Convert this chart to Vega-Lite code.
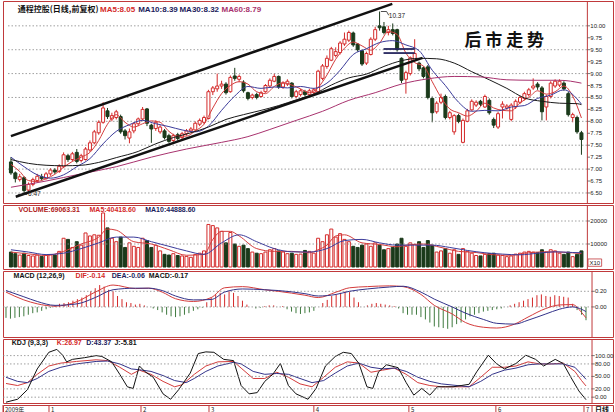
{
"$schema": "https://vega.github.io/schema/vega-lite/v6.json",
"padding": {"left": 2, "top": 0, "right": 0, "bottom": 0},
"background": "white",
"spacing": 0,
"config": {"view": {"stroke": "#c0393b", "strokeWidth": 1}},
"resolve": {"scale": {"y": "independent", "color": "independent"}},
"datasets": {
"k": [
{"i":0,"o":7.15,"h":7.25,"l":6.88,"c":6.92,"v":6500,"m":-0.14},
{"i":1,"o":6.92,"h":6.95,"l":6.72,"c":6.80,"v":5800,"m":-0.15},
{"i":2,"o":6.78,"h":6.90,"l":6.74,"c":6.84,"v":5200,"m":-0.14},
{"i":3,"o":6.82,"h":6.85,"l":6.47,"c":6.55,"v":6000,"m":-0.13},
{"i":4,"o":6.56,"h":6.72,"l":6.52,"c":6.68,"v":5000,"m":-0.12},
{"i":5,"o":6.68,"h":6.82,"l":6.64,"c":6.78,"v":4800,"m":-0.10},
{"i":6,"o":6.76,"h":6.90,"l":6.72,"c":6.85,"v":5200,"m":-0.08},
{"i":7,"o":6.84,"h":6.90,"l":6.76,"c":6.80,"v":4600,"m":-0.07},
{"i":8,"o":6.80,"h":6.94,"l":6.78,"c":6.90,"v":5000,"m":-0.05},
{"i":9,"o":6.90,"h":7.02,"l":6.86,"c":6.98,"v":5400,"m":-0.03},
{"i":10,"o":6.98,"h":7.02,"l":6.90,"c":6.94,"v":5200,"m":-0.01},
{"i":11,"o":6.95,"h":7.10,"l":6.92,"c":7.06,"v":6800,"m":0.02},
{"i":12,"o":7.05,"h":7.35,"l":7.02,"c":7.30,"v":12500,"m":0.04},
{"i":13,"o":7.28,"h":7.32,"l":7.15,"c":7.20,"v":12000,"m":0.05},
{"i":14,"o":7.20,"h":7.36,"l":7.16,"c":7.32,"v":8500,"m":0.06},
{"i":15,"o":7.35,"h":7.42,"l":7.12,"c":7.16,"v":11000,"m":0.08},
{"i":16,"o":7.18,"h":7.32,"l":7.14,"c":7.28,"v":9500,"m":0.10},
{"i":17,"o":7.20,"h":7.46,"l":7.18,"c":7.42,"v":14800,"m":0.12},
{"i":18,"o":7.40,"h":7.60,"l":7.36,"c":7.55,"v":13500,"m":0.15},
{"i":19,"o":7.55,"h":7.82,"l":7.52,"c":7.78,"v":14000,"m":0.20},
{"i":20,"o":7.76,"h":8.02,"l":7.72,"c":7.98,"v":13800,"m":0.24},
{"i":21,"o":7.98,"h":8.40,"l":7.95,"c":8.28,"v":23500,"m":0.28},
{"i":22,"o":8.22,"h":8.28,"l":8.05,"c":8.10,"v":17000,"m":0.26},
{"i":23,"o":8.05,"h":8.18,"l":8.00,"c":8.12,"v":12500,"m":0.22},
{"i":24,"o":8.08,"h":8.24,"l":8.04,"c":8.20,"v":11000,"m":0.20},
{"i":25,"o":8.10,"h":8.14,"l":7.74,"c":7.78,"v":13000,"m":0.14},
{"i":26,"o":7.80,"h":7.84,"l":7.62,"c":7.70,"v":8500,"m":0.10},
{"i":27,"o":7.65,"h":7.85,"l":7.54,"c":7.78,"v":10500,"m":0.06},
{"i":28,"o":7.80,"h":7.98,"l":7.75,"c":7.95,"v":9000,"m":0.05},
{"i":29,"o":7.95,"h":8.08,"l":7.90,"c":8.05,"v":8500,"m":0.03},
{"i":30,"o":8.05,"h":8.30,"l":8.02,"c":8.25,"v":12500,"m":0.04},
{"i":31,"o":8.26,"h":8.28,"l":7.90,"c":7.96,"v":11500,"m":0.02},
{"i":32,"o":7.92,"h":7.95,"l":7.55,"c":7.84,"v":8500,"m":0.00},
{"i":33,"o":7.85,"h":8.02,"l":7.80,"c":7.98,"v":9500,"m":-0.02},
{"i":34,"o":7.78,"h":7.92,"l":7.74,"c":7.88,"v":7000,"m":-0.04},
{"i":35,"o":7.80,"h":7.84,"l":7.62,"c":7.66,"v":5500,"m":-0.07},
{"i":36,"o":7.70,"h":7.74,"l":7.55,"c":7.58,"v":5200,"m":-0.10},
{"i":37,"o":7.60,"h":7.74,"l":7.56,"c":7.70,"v":5800,"m":-0.12},
{"i":38,"o":7.72,"h":7.76,"l":7.60,"c":7.64,"v":5000,"m":-0.13},
{"i":39,"o":7.66,"h":7.78,"l":7.62,"c":7.74,"v":4800,"m":-0.12},
{"i":40,"o":7.74,"h":7.84,"l":7.70,"c":7.80,"v":4600,"m":-0.10},
{"i":41,"o":7.80,"h":7.88,"l":7.76,"c":7.84,"v":4200,"m":-0.08},
{"i":42,"o":7.82,"h":8.00,"l":7.80,"c":7.96,"v":5400,"m":-0.05},
{"i":43,"o":7.94,"h":8.06,"l":7.90,"c":8.02,"v":6000,"m":-0.03},
{"i":44,"o":7.98,"h":8.12,"l":7.94,"c":8.08,"v":7000,"m":-0.01},
{"i":45,"o":8.06,"h":8.66,"l":8.04,"c":8.62,"v":18500,"m":0.06},
{"i":46,"o":8.62,"h":8.74,"l":8.55,"c":8.70,"v":18000,"m":0.12},
{"i":47,"o":8.68,"h":9.00,"l":8.62,"c":8.74,"v":17000,"m":0.16},
{"i":48,"o":8.74,"h":8.85,"l":8.68,"c":8.78,"v":15500,"m":0.18},
{"i":49,"o":8.78,"h":8.82,"l":8.56,"c":8.60,"v":10500,"m":0.16},
{"i":50,"o":8.62,"h":8.96,"l":8.60,"c":8.92,"v":15000,"m":0.20},
{"i":51,"o":8.95,"h":9.12,"l":8.85,"c":8.90,"v":10000,"m":0.18},
{"i":52,"o":8.88,"h":8.98,"l":8.82,"c":8.94,"v":9000,"m":0.14},
{"i":53,"o":8.82,"h":8.86,"l":8.60,"c":8.64,"v":9500,"m":0.08},
{"i":54,"o":8.60,"h":8.62,"l":8.44,"c":8.48,"v":8000,"m":0.03},
{"i":55,"o":8.50,"h":8.58,"l":8.46,"c":8.55,"v":6500,"m":0.00},
{"i":56,"o":8.56,"h":8.60,"l":8.46,"c":8.50,"v":6000,"m":-0.02},
{"i":57,"o":8.52,"h":8.64,"l":8.50,"c":8.60,"v":5800,"m":-0.01},
{"i":58,"o":8.62,"h":8.78,"l":8.60,"c":8.75,"v":6500,"m":0.01},
{"i":59,"o":8.74,"h":8.90,"l":8.70,"c":8.86,"v":7500,"m":0.02},
{"i":60,"o":8.84,"h":9.00,"l":8.82,"c":8.94,"v":8000,"m":0.02},
{"i":61,"o":8.94,"h":8.96,"l":8.68,"c":8.72,"v":7000,"m":0.00},
{"i":62,"o":8.72,"h":8.84,"l":8.68,"c":8.80,"v":6500,"m":0.01},
{"i":63,"o":8.78,"h":8.88,"l":8.74,"c":8.84,"v":5800,"m":-0.03},
{"i":64,"o":8.80,"h":8.82,"l":8.48,"c":8.52,"v":6000,"m":-0.06},
{"i":65,"o":8.52,"h":8.66,"l":8.48,"c":8.62,"v":5500,"m":-0.08},
{"i":66,"o":8.56,"h":8.68,"l":8.52,"c":8.64,"v":5600,"m":-0.09},
{"i":67,"o":8.62,"h":8.66,"l":8.52,"c":8.56,"v":7200,"m":-0.08},
{"i":68,"o":8.56,"h":8.68,"l":8.52,"c":8.64,"v":6800,"m":-0.07},
{"i":69,"o":8.60,"h":8.70,"l":8.56,"c":8.66,"v":6000,"m":-0.05},
{"i":70,"o":8.62,"h":9.08,"l":8.60,"c":9.05,"v":12500,"m":0.00},
{"i":71,"o":8.90,"h":9.20,"l":8.86,"c":9.16,"v":11000,"m":0.05},
{"i":72,"o":9.15,"h":9.38,"l":9.10,"c":9.32,"v":14000,"m":0.09},
{"i":73,"o":9.28,"h":9.56,"l":9.26,"c":9.52,"v":16500,"m":0.14},
{"i":74,"o":9.38,"h":9.55,"l":9.34,"c":9.46,"v":13000,"m":0.16},
{"i":75,"o":9.44,"h":9.68,"l":9.40,"c":9.64,"v":14500,"m":0.18},
{"i":76,"o":9.62,"h":9.86,"l":9.58,"c":9.72,"v":12000,"m":0.20},
{"i":77,"o":9.70,"h":9.90,"l":9.66,"c":9.86,"v":11000,"m":0.19},
{"i":78,"o":9.85,"h":9.88,"l":9.56,"c":9.60,"v":9000,"m":0.12},
{"i":79,"o":9.62,"h":9.64,"l":9.46,"c":9.50,"v":8500,"m":0.06},
{"i":80,"o":9.48,"h":9.50,"l":9.16,"c":9.20,"v":9500,"m":0.00},
{"i":81,"o":9.22,"h":9.46,"l":9.18,"c":9.42,"v":10000,"m":0.02},
{"i":82,"o":9.40,"h":9.76,"l":9.38,"c":9.72,"v":9000,"m":0.04},
{"i":83,"o":9.72,"h":9.98,"l":9.68,"c":9.92,"v":10500,"m":0.05},
{"i":84,"o":10.00,"h":10.30,"l":9.90,"c":9.96,"v":9500,"m":0.04},
{"i":85,"o":9.98,"h":10.08,"l":9.82,"c":9.86,"v":7500,"m":0.03},
{"i":86,"o":9.86,"h":10.00,"l":9.80,"c":9.92,"v":8000,"m":0.02},
{"i":87,"o":9.92,"h":10.05,"l":9.80,"c":9.84,"v":8500,"m":0.01},
{"i":88,"o":9.92,"h":9.94,"l":9.46,"c":9.50,"v":10000,"m":-0.02},
{"i":89,"o":9.32,"h":9.34,"l":8.80,"c":8.86,"v":12500,"m":-0.08},
{"i":90,"o":8.88,"h":9.06,"l":8.58,"c":9.02,"v":9000,"m":-0.10},
{"i":91,"o":9.00,"h":9.36,"l":8.96,"c":9.33,"v":10500,"m":-0.10},
{"i":92,"o":9.28,"h":9.72,"l":9.25,"c":9.42,"v":9800,"m":-0.10},
{"i":93,"o":9.22,"h":9.25,"l":9.05,"c":9.10,"v":11000,"m":-0.13},
{"i":94,"o":9.12,"h":9.15,"l":8.90,"c":8.94,"v":8500,"m":-0.16},
{"i":95,"o":9.14,"h":9.18,"l":8.46,"c":8.50,"v":11500,"m":-0.20},
{"i":96,"o":8.48,"h":8.52,"l":7.98,"c":8.18,"v":9500,"m":-0.25},
{"i":97,"o":8.20,"h":8.42,"l":8.16,"c":8.38,"v":6500,"m":-0.26},
{"i":98,"o":8.40,"h":8.58,"l":8.36,"c":8.50,"v":7000,"m":-0.27},
{"i":99,"o":8.52,"h":8.56,"l":8.04,"c":8.08,"v":8000,"m":-0.28},
{"i":100,"o":8.08,"h":8.22,"l":8.04,"c":8.18,"v":6000,"m":-0.26},
{"i":101,"o":7.78,"h":8.15,"l":7.72,"c":8.12,"v":7500,"m":-0.22},
{"i":102,"o":8.12,"h":8.16,"l":7.96,"c":8.00,"v":5500,"m":-0.20},
{"i":103,"o":7.56,"h":8.06,"l":7.54,"c":8.02,"v":8000,"m":-0.16},
{"i":104,"o":8.00,"h":8.26,"l":7.98,"c":8.22,"v":6800,"m":-0.12},
{"i":105,"o":8.24,"h":8.46,"l":8.22,"c":8.42,"v":6000,"m":-0.10},
{"i":106,"o":8.34,"h":8.44,"l":8.30,"c":8.40,"v":5000,"m":-0.08},
{"i":107,"o":8.42,"h":8.45,"l":8.32,"c":8.36,"v":4800,"m":-0.06},
{"i":108,"o":8.30,"h":8.56,"l":8.28,"c":8.52,"v":5500,"m":-0.05},
{"i":109,"o":8.44,"h":8.48,"l":8.14,"c":8.18,"v":5800,"m":-0.04},
{"i":110,"o":8.04,"h":8.08,"l":7.86,"c":7.92,"v":6000,"m":-0.03},
{"i":111,"o":7.88,"h":8.20,"l":7.84,"c":8.16,"v":5200,"m":-0.02},
{"i":112,"o":8.30,"h":8.42,"l":8.06,"c":8.36,"v":5000,"m":0.00},
{"i":113,"o":8.28,"h":8.36,"l":8.24,"c":8.32,"v":4500,"m":0.02},
{"i":114,"o":8.04,"h":8.38,"l":8.00,"c":8.34,"v":4800,"m":0.04},
{"i":115,"o":8.30,"h":8.46,"l":8.26,"c":8.42,"v":5600,"m":0.06},
{"i":116,"o":8.40,"h":8.54,"l":8.36,"c":8.50,"v":6000,"m":0.08},
{"i":117,"o":8.48,"h":8.62,"l":8.44,"c":8.58,"v":6500,"m":0.10},
{"i":118,"o":8.56,"h":8.70,"l":8.52,"c":8.66,"v":6800,"m":0.12},
{"i":119,"o":8.70,"h":8.90,"l":8.66,"c":8.74,"v":6500,"m":0.15},
{"i":120,"o":8.78,"h":8.82,"l":8.66,"c":8.72,"v":6200,"m":0.16},
{"i":121,"o":8.70,"h":8.74,"l":8.02,"c":8.20,"v":7500,"m":0.14},
{"i":122,"o":8.30,"h":8.56,"l":8.02,"c":8.52,"v":6500,"m":0.13},
{"i":123,"o":8.52,"h":8.84,"l":8.48,"c":8.80,"v":7500,"m":0.15},
{"i":124,"o":8.74,"h":8.88,"l":8.70,"c":8.84,"v":7000,"m":0.14},
{"i":125,"o":8.76,"h":8.88,"l":8.72,"c":8.84,"v":6000,"m":0.13},
{"i":126,"o":8.80,"h":8.84,"l":8.64,"c":8.68,"v":5500,"m":0.12},
{"i":127,"o":8.58,"h":8.62,"l":8.10,"c":8.14,"v":6500,"m":0.04},
{"i":128,"o":8.08,"h":8.18,"l":7.98,"c":8.14,"v":4500,"m":-0.04},
{"i":129,"o":8.08,"h":8.12,"l":7.74,"c":7.78,"v":5500,"m":-0.10},
{"i":130,"o":7.76,"h":7.80,"l":7.30,"c":7.62,"v":7000,"m":-0.17}
],
"ma": [
{"i":0,"s":"MA5","p":7.10},{"i":2,"s":"MA5","p":6.95},{"i":4,"s":"MA5","p":6.76},{"i":6,"s":"MA5","p":6.74},{"i":8,"s":"MA5","p":6.80},{"i":10,"s":"MA5","p":6.89},{"i":12,"s":"MA5","p":7.04},{"i":14,"s":"MA5","p":7.16},{"i":16,"s":"MA5","p":7.25},{"i":18,"s":"MA5","p":7.35},{"i":20,"s":"MA5","p":7.60},{"i":22,"s":"MA5","p":7.94},{"i":24,"s":"MA5","p":8.14},{"i":26,"s":"MA5","p":7.98},{"i":28,"s":"MA5","p":7.88},{"i":30,"s":"MA5","p":7.95},{"i":32,"s":"MA5","p":8.01},{"i":34,"s":"MA5","p":7.98},{"i":36,"s":"MA5","p":7.79},{"i":38,"s":"MA5","p":7.69},{"i":40,"s":"MA5","p":7.69},{"i":42,"s":"MA5","p":7.80},{"i":44,"s":"MA5","p":7.94},{"i":46,"s":"MA5","p":8.28},{"i":48,"s":"MA5","p":8.58},{"i":50,"s":"MA5","p":8.75},{"i":52,"s":"MA5","p":8.83},{"i":54,"s":"MA5","p":8.78},{"i":56,"s":"MA5","p":8.62},{"i":58,"s":"MA5","p":8.58},{"i":60,"s":"MA5","p":8.73},{"i":62,"s":"MA5","p":8.81},{"i":64,"s":"MA5","p":8.76},{"i":66,"s":"MA5","p":8.68},{"i":68,"s":"MA5","p":8.60},{"i":70,"s":"MA5","p":8.71},{"i":72,"s":"MA5","p":8.97},{"i":74,"s":"MA5","p":9.30},{"i":76,"s":"MA5","p":9.53},{"i":78,"s":"MA5","p":9.66},{"i":80,"s":"MA5","p":9.58},{"i":82,"s":"MA5","p":9.49},{"i":84,"s":"MA5","p":9.64},{"i":86,"s":"MA5","p":9.88},{"i":88,"s":"MA5","p":9.82},{"i":90,"s":"MA5","p":9.43},{"i":92,"s":"MA5","p":9.23},{"i":94,"s":"MA5","p":9.16},{"i":96,"s":"MA5","p":8.83},{"i":98,"s":"MA5","p":8.50},{"i":100,"s":"MA5","p":8.26},{"i":102,"s":"MA5","p":8.18},{"i":104,"s":"MA5","p":8.11},{"i":106,"s":"MA5","p":8.21},{"i":108,"s":"MA5","p":8.38},{"i":110,"s":"MA5","p":8.28},{"i":112,"s":"MA5","p":8.23},{"i":114,"s":"MA5","p":8.22},{"i":116,"s":"MA5","p":8.39},{"i":118,"s":"MA5","p":8.50},{"i":120,"s":"MA5","p":8.64},{"i":122,"s":"MA5","p":8.57},{"i":124,"s":"MA5","p":8.62},{"i":126,"s":"MA5","p":8.74},{"i":128,"s":"MA5","p":8.53},{"i":130,"s":"MA5","p":8.07},
{"i":0,"s":"MA10","p":7.25},{"i":3,"s":"MA10","p":7.05},{"i":6,"s":"MA10","p":6.88},{"i":9,"s":"MA10","p":6.81},{"i":12,"s":"MA10","p":6.88},{"i":15,"s":"MA10","p":7.05},{"i":18,"s":"MA10","p":7.22},{"i":21,"s":"MA10","p":7.53},{"i":24,"s":"MA10","p":7.79},{"i":27,"s":"MA10","p":7.93},{"i":30,"s":"MA10","p":8.02},{"i":33,"s":"MA10","p":7.95},{"i":36,"s":"MA10","p":7.89},{"i":39,"s":"MA10","p":7.82},{"i":42,"s":"MA10","p":7.78},{"i":45,"s":"MA10","p":7.90},{"i":48,"s":"MA10","p":8.23},{"i":51,"s":"MA10","p":8.53},{"i":54,"s":"MA10","p":8.73},{"i":57,"s":"MA10","p":8.69},{"i":60,"s":"MA10","p":8.72},{"i":63,"s":"MA10","p":8.70},{"i":66,"s":"MA10","p":8.73},{"i":69,"s":"MA10","p":8.69},{"i":72,"s":"MA10","p":8.80},{"i":75,"s":"MA10","p":9.07},{"i":78,"s":"MA10","p":9.40},{"i":81,"s":"MA10","p":9.52},{"i":84,"s":"MA10","p":9.65},{"i":87,"s":"MA10","p":9.69},{"i":90,"s":"MA10","p":9.60},{"i":93,"s":"MA10","p":9.48},{"i":96,"s":"MA10","p":9.07},{"i":99,"s":"MA10","p":8.75},{"i":102,"s":"MA10","p":8.40},{"i":105,"s":"MA10","p":8.21},{"i":108,"s":"MA10","p":8.23},{"i":111,"s":"MA10","p":8.22},{"i":114,"s":"MA10","p":8.30},{"i":117,"s":"MA10","p":8.33},{"i":120,"s":"MA10","p":8.48},{"i":123,"s":"MA10","p":8.55},{"i":126,"s":"MA10","p":8.66},{"i":129,"s":"MA10","p":8.47},{"i":130,"s":"MA10","p":8.36},
{"i":0,"s":"MA30","p":7.20},{"i":4,"s":"MA30","p":7.12},{"i":8,"s":"MA30","p":7.08},{"i":12,"s":"MA30","p":7.07},{"i":16,"s":"MA30","p":7.08},{"i":20,"s":"MA30","p":7.14},{"i":24,"s":"MA30","p":7.24},{"i":29,"s":"MA30","p":7.37},{"i":33,"s":"MA30","p":7.53},{"i":37,"s":"MA30","p":7.66},{"i":41,"s":"MA30","p":7.76},{"i":45,"s":"MA30","p":7.88},{"i":49,"s":"MA30","p":8.04},{"i":53,"s":"MA30","p":8.14},{"i":57,"s":"MA30","p":8.23},{"i":61,"s":"MA30","p":8.33},{"i":65,"s":"MA30","p":8.45},{"i":69,"s":"MA30","p":8.57},{"i":73,"s":"MA30","p":8.76},{"i":77,"s":"MA30","p":8.91},{"i":81,"s":"MA30","p":8.99},{"i":85,"s":"MA30","p":9.15},{"i":89,"s":"MA30","p":9.27},{"i":93,"s":"MA30","p":9.32},{"i":97,"s":"MA30","p":9.31},{"i":101,"s":"MA30","p":9.22},{"i":105,"s":"MA30","p":9.04},{"i":109,"s":"MA30","p":8.87},{"i":113,"s":"MA30","p":8.69},{"i":117,"s":"MA30","p":8.49},{"i":121,"s":"MA30","p":8.42},{"i":125,"s":"MA30","p":8.38},{"i":129,"s":"MA30","p":8.37},{"i":130,"s":"MA30","p":8.35},
{"i":0,"s":"MA60","p":6.62},{"i":8,"s":"MA60","p":6.75},{"i":16,"s":"MA60","p":6.90},{"i":24,"s":"MA60","p":7.05},{"i":32,"s":"MA60","p":7.25},{"i":40,"s":"MA60","p":7.42},{"i":48,"s":"MA60","p":7.56},{"i":54,"s":"MA60","p":7.68},{"i":59,"s":"MA60","p":7.83},{"i":65,"s":"MA60","p":8.02},{"i":71,"s":"MA60","p":8.21},{"i":77,"s":"MA60","p":8.44},{"i":83,"s":"MA60","p":8.60},{"i":89,"s":"MA60","p":8.78},{"i":95,"s":"MA60","p":8.89},{"i":101,"s":"MA60","p":8.94},{"i":107,"s":"MA60","p":8.93},{"i":113,"s":"MA60","p":8.87},{"i":119,"s":"MA60","p":8.86},{"i":125,"s":"MA60","p":8.86},{"i":130,"s":"MA60","p":8.80}
],
"vma": [
{"i":0,"s":"MA5","v":6500},{"i":4,"s":"MA5","v":5700},{"i":8,"s":"MA5","v":5000},{"i":12,"s":"MA5","v":6800},{"i":16,"s":"MA5","v":10000},{"i":20,"s":"MA5","v":13000},{"i":22,"s":"MA5","v":16500},{"i":24,"s":"MA5","v":16000},{"i":28,"s":"MA5","v":11000},{"i":32,"s":"MA5","v":10000},{"i":36,"s":"MA5","v":7500},{"i":40,"s":"MA5","v":5100},{"i":44,"s":"MA5","v":5500},{"i":46,"s":"MA5","v":12000},{"i":48,"s":"MA5","v":15500},{"i":50,"s":"MA5","v":15500},{"i":52,"s":"MA5","v":13500},{"i":56,"s":"MA5","v":8000},{"i":60,"s":"MA5","v":6800},{"i":64,"s":"MA5","v":6800},{"i":68,"s":"MA5","v":6200},{"i":70,"s":"MA5","v":7500},{"i":72,"s":"MA5","v":9500},{"i":74,"s":"MA5","v":13500},{"i":76,"s":"MA5","v":14000},{"i":80,"s":"MA5","v":10500},{"i":84,"s":"MA5","v":9800},{"i":88,"s":"MA5","v":8800},{"i":90,"s":"MA5","v":9500},{"i":94,"s":"MA5","v":10000},{"i":98,"s":"MA5","v":8500},{"i":102,"s":"MA5","v":6800},{"i":106,"s":"MA5","v":6300},{"i":110,"s":"MA5","v":5300},{"i":114,"s":"MA5","v":5100},{"i":118,"s":"MA5","v":6200},{"i":122,"s":"MA5","v":6600},{"i":126,"s":"MA5","v":6400},{"i":130,"s":"MA5","v":5800},
{"i":0,"s":"MA10","v":7500},{"i":4,"s":"MA10","v":6500},{"i":8,"s":"MA10","v":5400},{"i":12,"s":"MA10","v":6000},{"i":16,"s":"MA10","v":8000},{"i":20,"s":"MA10","v":10500},{"i":24,"s":"MA10","v":13000},{"i":28,"s":"MA10","v":13000},{"i":32,"s":"MA10","v":11000},{"i":36,"s":"MA10","v":9000},{"i":40,"s":"MA10","v":7000},{"i":44,"s":"MA10","v":5500},{"i":48,"s":"MA10","v":10500},{"i":52,"s":"MA10","v":14000},{"i":56,"s":"MA10","v":11000},{"i":60,"s":"MA10","v":8000},{"i":64,"s":"MA10","v":6600},{"i":68,"s":"MA10","v":6500},{"i":72,"s":"MA10","v":8000},{"i":76,"s":"MA10","v":11500},{"i":80,"s":"MA10","v":12000},{"i":84,"s":"MA10","v":10500},{"i":88,"s":"MA10","v":9500},{"i":92,"s":"MA10","v":9500},{"i":96,"s":"MA10","v":9500},{"i":100,"s":"MA10","v":8500},{"i":104,"s":"MA10","v":7200},{"i":108,"s":"MA10","v":6200},{"i":112,"s":"MA10","v":5600},{"i":116,"s":"MA10","v":5300},{"i":120,"s":"MA10","v":6000},{"i":124,"s":"MA10","v":6600},{"i":128,"s":"MA10","v":6300},{"i":130,"s":"MA10","v":6200}
],
"macd": [
{"i":0,"s":"DIF","v":0.19},{"i":4,"s":"DIF","v":0.09},{"i":7,"s":"DIF","v":0.04},{"i":11,"s":"DIF","v":0.01},{"i":16,"s":"DIF","v":0.07},{"i":20,"s":"DIF","v":0.19},{"i":24,"s":"DIF","v":0.28},{"i":29,"s":"DIF","v":0.235},{"i":32,"s":"DIF","v":0.24},{"i":35,"s":"DIF","v":0.19},{"i":38,"s":"DIF","v":0.105},{"i":42,"s":"DIF","v":0.07},{"i":46,"s":"DIF","v":0.12},{"i":49,"s":"DIF","v":0.245},{"i":53,"s":"DIF","v":0.26},{"i":58,"s":"DIF","v":0.22},{"i":61,"s":"DIF","v":0.2},{"i":67,"s":"DIF","v":0.15},{"i":70,"s":"DIF","v":0.12},{"i":74,"s":"DIF","v":0.19},{"i":77,"s":"DIF","v":0.245},{"i":81,"s":"DIF","v":0.26},{"i":86,"s":"DIF","v":0.27},{"i":89,"s":"DIF","v":0.26},{"i":93,"s":"DIF","v":0.16},{"i":96,"s":"DIF","v":0.02},{"i":100,"s":"DIF","v":-0.09},{"i":103,"s":"DIF","v":-0.2},{"i":107,"s":"DIF","v":-0.26},{"i":110,"s":"DIF","v":-0.27},{"i":114,"s":"DIF","v":-0.22},{"i":117,"s":"DIF","v":-0.13},{"i":121,"s":"DIF","v":-0.02},{"i":124,"s":"DIF","v":0.025},{"i":127,"s":"DIF","v":0.03},{"i":129,"s":"DIF","v":-0.07},{"i":130,"s":"DIF","v":-0.14},
{"i":0,"s":"DEA","v":0.21},{"i":4,"s":"DEA","v":0.13},{"i":7,"s":"DEA","v":0.07},{"i":11,"s":"DEA","v":0.02},{"i":16,"s":"DEA","v":0.04},{"i":20,"s":"DEA","v":0.12},{"i":24,"s":"DEA","v":0.22},{"i":29,"s":"DEA","v":0.24},{"i":32,"s":"DEA","v":0.24},{"i":35,"s":"DEA","v":0.21},{"i":38,"s":"DEA","v":0.14},{"i":42,"s":"DEA","v":0.09},{"i":46,"s":"DEA","v":0.095},{"i":49,"s":"DEA","v":0.19},{"i":53,"s":"DEA","v":0.23},{"i":58,"s":"DEA","v":0.22},{"i":61,"s":"DEA","v":0.21},{"i":67,"s":"DEA","v":0.17},{"i":70,"s":"DEA","v":0.14},{"i":74,"s":"DEA","v":0.16},{"i":77,"s":"DEA","v":0.2},{"i":81,"s":"DEA","v":0.23},{"i":86,"s":"DEA","v":0.255},{"i":89,"s":"DEA","v":0.265},{"i":93,"s":"DEA","v":0.19},{"i":96,"s":"DEA","v":0.1},{"i":100,"s":"DEA","v":0.0},{"i":103,"s":"DEA","v":-0.08},{"i":107,"s":"DEA","v":-0.16},{"i":110,"s":"DEA","v":-0.21},{"i":114,"s":"DEA","v":-0.22},{"i":117,"s":"DEA","v":-0.17},{"i":121,"s":"DEA","v":-0.09},{"i":124,"s":"DEA","v":-0.03},{"i":127,"s":"DEA","v":0.0},{"i":129,"s":"DEA","v":-0.03},{"i":130,"s":"DEA","v":-0.06}
],
"kdj": [
{"i":0,"s":"K","v":33},{"i":2.6,"s":"K","v":28},{"i":4.8,"s":"K","v":35},{"i":7,"s":"K","v":55},{"i":9.6,"s":"K","v":75},{"i":12.3,"s":"K","v":82},{"i":15.8,"s":"K","v":86},{"i":20.2,"s":"K","v":90},{"i":22.8,"s":"K","v":88},{"i":25.5,"s":"K","v":72},{"i":28.1,"s":"K","v":55},{"i":29.9,"s":"K","v":65},{"i":32.5,"s":"K","v":55},{"i":35.2,"s":"K","v":38},{"i":37.8,"s":"K","v":25},{"i":39.5,"s":"K","v":30},{"i":42.2,"s":"K","v":55},{"i":44.8,"s":"K","v":75},{"i":47.5,"s":"K","v":85},{"i":51,"s":"K","v":86},{"i":52.7,"s":"K","v":70},{"i":55.4,"s":"K","v":45},{"i":58,"s":"K","v":45},{"i":60.7,"s":"K","v":60},{"i":63.3,"s":"K","v":48},{"i":65.9,"s":"K","v":32},{"i":68.6,"s":"K","v":25},{"i":71.2,"s":"K","v":48},{"i":73.8,"s":"K","v":72},{"i":76.5,"s":"K","v":85},{"i":79.1,"s":"K","v":82},{"i":81.8,"s":"K","v":60},{"i":84.4,"s":"K","v":65},{"i":87,"s":"K","v":70},{"i":89.7,"s":"K","v":55},{"i":92.3,"s":"K","v":35},{"i":95,"s":"K","v":28},{"i":97.6,"s":"K","v":25},{"i":101.1,"s":"K","v":25},{"i":103.8,"s":"K","v":25},{"i":106.4,"s":"K","v":48},{"i":109,"s":"K","v":72},{"i":111.7,"s":"K","v":72},{"i":114.3,"s":"K","v":75},{"i":117,"s":"K","v":85},{"i":119.6,"s":"K","v":80},{"i":122.2,"s":"K","v":80},{"i":124.9,"s":"K","v":82},{"i":127.5,"s":"K","v":62},{"i":129,"s":"K","v":40},{"i":130,"s":"K","v":27},
{"i":0,"s":"D","v":48},{"i":2.6,"s":"D","v":38},{"i":4.8,"s":"D","v":35},{"i":7,"s":"D","v":45},{"i":9.6,"s":"D","v":62},{"i":12.3,"s":"D","v":72},{"i":15.8,"s":"D","v":80},{"i":20.2,"s":"D","v":86},{"i":22.8,"s":"D","v":87},{"i":25.5,"s":"D","v":80},{"i":28.1,"s":"D","v":68},{"i":29.9,"s":"D","v":66},{"i":32.5,"s":"D","v":62},{"i":35.2,"s":"D","v":52},{"i":37.8,"s":"D","v":40},{"i":40.4,"s":"D","v":35},{"i":42.2,"s":"D","v":45},{"i":44.8,"s":"D","v":62},{"i":47.5,"s":"D","v":75},{"i":51,"s":"D","v":84},{"i":52.7,"s":"D","v":80},{"i":55.4,"s":"D","v":62},{"i":58,"s":"D","v":55},{"i":60.7,"s":"D","v":57},{"i":63.3,"s":"D","v":55},{"i":65.9,"s":"D","v":45},{"i":68.6,"s":"D","v":35},{"i":71.2,"s":"D","v":40},{"i":73.8,"s":"D","v":58},{"i":76.5,"s":"D","v":75},{"i":79.1,"s":"D","v":82},{"i":81.8,"s":"D","v":72},{"i":84.4,"s":"D","v":68},{"i":87,"s":"D","v":70},{"i":89.7,"s":"D","v":62},{"i":92.3,"s":"D","v":48},{"i":95,"s":"D","v":38},{"i":97.6,"s":"D","v":32},{"i":101.1,"s":"D","v":28},{"i":103.8,"s":"D","v":25},{"i":106.4,"s":"D","v":38},{"i":109,"s":"D","v":55},{"i":111.7,"s":"D","v":65},{"i":114.3,"s":"D","v":70},{"i":117,"s":"D","v":78},{"i":119.6,"s":"D","v":80},{"i":122.2,"s":"D","v":80},{"i":124.9,"s":"D","v":80},{"i":127.5,"s":"D","v":72},{"i":129,"s":"D","v":55},{"i":130,"s":"D","v":43},
{"i":0,"s":"J","v":-12},{"i":2.6,"s":"J","v":-5},{"i":4.8,"s":"J","v":18},{"i":7,"s":"J","v":68},{"i":9.6,"s":"J","v":108},{"i":11.4,"s":"J","v":115},{"i":12.7,"s":"J","v":101},{"i":13.6,"s":"J","v":85},{"i":14.9,"s":"J","v":91},{"i":17.6,"s":"J","v":95},{"i":20.2,"s":"J","v":100},{"i":21.5,"s":"J","v":98},{"i":23.7,"s":"J","v":85},{"i":25.5,"s":"J","v":55},{"i":27.2,"s":"J","v":25},{"i":28.5,"s":"J","v":21},{"i":29.9,"s":"J","v":75},{"i":31.2,"s":"J","v":61},{"i":33,"s":"J","v":48},{"i":35.2,"s":"J","v":8},{"i":36.9,"s":"J","v":-5},{"i":38.7,"s":"J","v":18},{"i":41.3,"s":"J","v":58},{"i":43.1,"s":"J","v":105},{"i":44.8,"s":"J","v":109},{"i":46.6,"s":"J","v":108},{"i":48.8,"s":"J","v":91},{"i":51,"s":"J","v":88},{"i":52.7,"s":"J","v":28},{"i":54.5,"s":"J","v":8},{"i":56.3,"s":"J","v":11},{"i":58,"s":"J","v":38},{"i":59.8,"s":"J","v":55},{"i":61.5,"s":"J","v":81},{"i":63.3,"s":"J","v":28},{"i":65,"s":"J","v":8},{"i":67.7,"s":"J","v":-5},{"i":69.5,"s":"J","v":21},{"i":71.6,"s":"J","v":75},{"i":73.8,"s":"J","v":98},{"i":75.6,"s":"J","v":108},{"i":77.4,"s":"J","v":105},{"i":79.1,"s":"J","v":81},{"i":80.9,"s":"J","v":25},{"i":82.2,"s":"J","v":21},{"i":83.5,"s":"J","v":61},{"i":85.3,"s":"J","v":78},{"i":87.9,"s":"J","v":71},{"i":89.7,"s":"J","v":35},{"i":91.4,"s":"J","v":5},{"i":93.2,"s":"J","v":21},{"i":95,"s":"J","v":5},{"i":96.7,"s":"J","v":25},{"i":98.5,"s":"J","v":25},{"i":100.2,"s":"J","v":25},{"i":102,"s":"J","v":28},{"i":103.8,"s":"J","v":31},{"i":105.5,"s":"J","v":61},{"i":108.1,"s":"J","v":101},{"i":109.9,"s":"J","v":81},{"i":111.7,"s":"J","v":68},{"i":114.3,"s":"J","v":81},{"i":116.5,"s":"J","v":101},{"i":118.7,"s":"J","v":91},{"i":120.5,"s":"J","v":75},{"i":121.3,"s":"J","v":80},{"i":123.1,"s":"J","v":91},{"i":124.9,"s":"J","v":81},{"i":126.6,"s":"J","v":48},{"i":128.4,"s":"J","v":15},{"i":130,"s":"J","v":-6}
],
"trend": [{"i1":0,"p1":7.69,"i2":86.9,"p2":10.46},{"i1":1.1,"p1":6.42,"i2":93.8,"p2":9.33}],
"dbl": [{"i1":84.9,"p1":9.515,"i2":92.0,"p2":9.515},{"i1":84.9,"p1":9.43,"i2":92.0,"p2":9.43}],
"lead": [{"i1":1.6,"p1":6.47,"i2":3.7,"p2":6.47},{"i1":84.3,"p1":10.30,"i2":85.6,"p2":10.30},{"i1":85.6,"p1":10.30,"i2":86.1,"p2":10.22}],
"pgrid": [{"g":6.5},{"g":7},{"g":7.5},{"g":8},{"g":8.5},{"g":9},{"g":9.5},{"g":10}],
"plab": [{"g":6.5},{"g":6.75},{"g":7},{"g":7.25},{"g":7.5},{"g":7.75},{"g":8},{"g":8.25},{"g":8.5},{"g":8.75},{"g":9},{"g":9.25},{"g":9.5},{"g":9.75},{"g":10}],
"vgrid": [{"g":10000},{"g":20000}],
"mgrid": [{"g":0},{"g":0.2}],
"kgrid": [{"g":0},{"g":20},{"g":50},{"g":80},{"g":100}],
"months": [{"i":-0.67,"t":"2009年"},{"i":9.64,"t":"1"},{"i":30.26,"t":"2"},{"i":45.5,"t":"3"},{"i":69.0,"t":"4"},{"i":90.3,"t":"5"},{"i":109.8,"t":"6"},{"i":129.55,"t":"7"},{"i":131.35,"t":""}]
},
"vconcat": [
{
"width": 610, "height": 202,
"layer": [
{"data": {"name": "k"}, "mark": {"type": "rule", "clip": true, "strokeWidth": 1},
 "encoding": {
  "x": {"field": "i", "type": "quantitative", "scale": {"domain": [-0.67, 136.05], "nice": false, "zero": false}, "axis": null},
  "y": {"field": "l", "type": "quantitative", "scale": {"domain": [6.29, 10.52], "nice": false, "zero": false}, "axis": null},
  "y2": {"field": "h"},
  "color": {"condition": {"test": "datum.c >= datum.o", "value": "#d42a2a"}, "value": "#1b3a1b"}}},
{"data": {"name": "pgrid"}, "mark": {"type": "rule", "strokeDash": [1.5, 2], "color": "#888888", "strokeWidth": 0.8},
 "encoding": {"x": {"datum": -0.67, "type": "quantitative"}, "x2": {"datum": 131.35}, "y": {"field": "g", "type": "quantitative"}}},
{"data": {"name": "k"}, "mark": {"type": "bar", "size": 3, "clip": true, "strokeWidth": 1},
 "encoding": {
  "x": {"field": "i", "type": "quantitative"},
  "y": {"field": "o", "type": "quantitative"},
  "y2": {"field": "c"},
  "fill": {"condition": {"test": "datum.c >= datum.o", "value": "#ffffff"}, "value": "#1b3a1b"},
  "stroke": {"condition": {"test": "datum.c >= datum.o", "value": "#d42a2a"}, "value": "#1b3a1b"}}},
{"data": {"name": "ma"}, "mark": {"type": "line", "clip": true, "strokeWidth": 1, "interpolate": "monotone"},
 "encoding": {
  "x": {"field": "i", "type": "quantitative"},
  "y": {"field": "p", "type": "quantitative"},
  "color": {"field": "s", "type": "nominal", "scale": {"domain": ["MA5","MA10","MA30","MA60"], "range": ["#d43c3c","#3b3b9a","#1a1a1a","#a8326e"]}, "legend": null}}},
{"data": {"name": "trend"}, "mark": {"type": "rule", "clip": true, "strokeWidth": 2.5, "color": "#111111"},
 "encoding": {"x": {"field": "i1", "type": "quantitative"}, "x2": {"field": "i2"}, "y": {"field": "p1", "type": "quantitative"}, "y2": {"field": "p2"}}},
{"data": {"name": "dbl"}, "mark": {"type": "rule", "clip": true, "strokeWidth": 1.8, "color": "#26265e"},
 "encoding": {"x": {"field": "i1", "type": "quantitative"}, "x2": {"field": "i2"}, "y": {"field": "p1", "type": "quantitative"}, "y2": {"field": "p2"}}},
{"data": {"name": "lead"}, "mark": {"type": "rule", "clip": true, "strokeWidth": 0.8, "color": "#222222"},
 "encoding": {"x": {"field": "i1", "type": "quantitative"}, "x2": {"field": "i2"}, "y": {"field": "p1", "type": "quantitative"}, "y2": {"field": "p2"}}},
{"data": {"values": [{}]}, "mark": {"type": "rule", "color": "#c0393b", "strokeWidth": 1},
 "encoding": {"x": {"datum": 131.35, "type": "quantitative"}}},
{"data": {"name": "plab"}, "mark": {"type": "rule", "color": "#555555", "strokeWidth": 0.8},
 "encoding": {"x": {"datum": 131.35, "type": "quantitative"}, "x2": {"datum": 131.95}, "y": {"field": "g", "type": "quantitative"}}},
{"data": {"name": "plab"}, "mark": {"type": "text", "align": "left", "baseline": "middle", "dx": 3, "font": "Liberation Sans", "fontSize": 6, "color": "#222222"},
 "encoding": {"x": {"datum": 131.35, "type": "quantitative"}, "y": {"field": "g", "type": "quantitative"}, "text": {"field": "g", "type": "quantitative", "format": ".2f"}}},
{"data": {"values": [{"t": "通程控股(日线,前复权)"}]}, "mark": {"type": "text", "align": "left", "baseline": "middle", "font": "Noto Sans CJK SC", "fontSize": 8, "fontWeight": "bold", "color": "#111111"},
 "encoding": {"x": {"datum": 1.56, "type": "quantitative"}, "y": {"datum": 10.33, "type": "quantitative"}, "text": {"field": "t"}}},
{"data": {"values": [{"t": "MA5:8.05"}]}, "mark": {"type": "text", "align": "left", "baseline": "middle", "font": "Liberation Sans", "fontSize": 8, "fontWeight": "bold", "color": "#d42a2a"},
 "encoding": {"x": {"datum": 20.3, "type": "quantitative"}, "y": {"datum": 10.33, "type": "quantitative"}, "text": {"field": "t"}}},
{"data": {"values": [{"t": "MA10:8.39"}]}, "mark": {"type": "text", "align": "left", "baseline": "middle", "font": "Liberation Sans", "fontSize": 8, "fontWeight": "bold", "color": "#1c1c5c"},
 "encoding": {"x": {"datum": 29.0, "type": "quantitative"}, "y": {"datum": 10.33, "type": "quantitative"}, "text": {"field": "t"}}},
{"data": {"values": [{"t": "MA30:8.32"}]}, "mark": {"type": "text", "align": "left", "baseline": "middle", "font": "Liberation Sans", "fontSize": 8, "fontWeight": "bold", "color": "#1c1c5c"},
 "encoding": {"x": {"datum": 38.4, "type": "quantitative"}, "y": {"datum": 10.33, "type": "quantitative"}, "text": {"field": "t"}}},
{"data": {"values": [{"t": "MA60:8.79"}]}, "mark": {"type": "text", "align": "left", "baseline": "middle", "font": "Liberation Sans", "fontSize": 8, "fontWeight": "bold", "color": "#a8326e"},
 "encoding": {"x": {"datum": 48.0, "type": "quantitative"}, "y": {"datum": 10.33, "type": "quantitative"}, "text": {"field": "t"}}},
{"data": {"values": [{"t": "10.37"}]}, "mark": {"type": "text", "align": "left", "baseline": "middle", "font": "Liberation Sans", "fontSize": 6.5, "color": "#222222"},
 "encoding": {"x": {"datum": 86.1, "type": "quantitative"}, "y": {"datum": 10.2, "type": "quantitative"}, "text": {"field": "t"}}},
{"data": {"values": [{"t": "6.47"}]}, "mark": {"type": "text", "align": "left", "baseline": "middle", "font": "Liberation Sans", "fontSize": 6.5, "color": "#222222"},
 "encoding": {"x": {"datum": 3.9, "type": "quantitative"}, "y": {"datum": 6.47, "type": "quantitative"}, "text": {"field": "t"}}},
{"data": {"values": [{"t": "后 市 走 势"}]}, "mark": {"type": "text", "align": "center", "baseline": "middle", "font": "Noto Sans CJK SC", "fontSize": 17, "fontWeight": "bold", "color": "#111111"},
 "encoding": {"x": {"datum": 112.4, "type": "quantitative"}, "y": {"datum": 9.69, "type": "quantitative"}, "text": {"field": "t"}}}
]
},
{
"width": 610, "height": 64,
"layer": [
{"data": {"name": "k"}, "mark": {"type": "bar", "size": 3, "clip": true, "strokeWidth": 1},
 "encoding": {
  "x": {"field": "i", "type": "quantitative", "scale": {"domain": [-0.67, 136.05], "nice": false, "zero": false}, "axis": null},
  "y": {"field": "v", "type": "quantitative", "scale": {"domain": [-870, 26960], "nice": false, "zero": false}, "axis": null},
  "y2": {"datum": 0},
  "fill": {"condition": {"test": "datum.c >= datum.o", "value": "#ffffff"}, "value": "#1b3a1b"},
  "stroke": {"condition": {"test": "datum.c >= datum.o", "value": "#d42a2a"}, "value": "#1b3a1b"}}},
{"data": {"name": "vgrid"}, "mark": {"type": "rule", "strokeDash": [1.5, 2], "color": "#888888", "strokeWidth": 0.8},
 "encoding": {"x": {"datum": -0.67, "type": "quantitative"}, "x2": {"datum": 131.35}, "y": {"field": "g", "type": "quantitative"}}},
{"data": {"name": "vma"}, "mark": {"type": "line", "clip": true, "strokeWidth": 1, "interpolate": "monotone"},
 "encoding": {
  "x": {"field": "i", "type": "quantitative"},
  "y": {"field": "v", "type": "quantitative"},
  "color": {"field": "s", "type": "nominal", "scale": {"domain": ["MA5","MA10"], "range": ["#d43c3c","#3b3b9a"]}, "legend": null}}},
{"data": {"values": [{}]}, "mark": {"type": "rule", "color": "#c0393b", "strokeWidth": 1},
 "encoding": {"x": {"datum": 131.35, "type": "quantitative"}}},
{"data": {"name": "vgrid"}, "mark": {"type": "rule", "color": "#555555", "strokeWidth": 0.8},
 "encoding": {"x": {"datum": 131.35, "type": "quantitative"}, "x2": {"datum": 131.95}, "y": {"field": "g", "type": "quantitative"}}},
{"data": {"name": "vgrid"}, "mark": {"type": "text", "align": "left", "baseline": "middle", "dx": 3, "font": "Liberation Sans", "fontSize": 6, "color": "#222222"},
 "encoding": {"x": {"datum": 131.35, "type": "quantitative"}, "y": {"field": "g", "type": "quantitative"}, "text": {"field": "g", "type": "quantitative", "format": "d"}}},
{"data": {"values": [{}]}, "mark": {"type": "rect", "fill": "#ffffff", "stroke": "#c0393b", "strokeWidth": 0.8},
 "encoding": {"x": {"datum": 131.5, "type": "quantitative"}, "x2": {"datum": 134.6}, "y": {"datum": 300, "type": "quantitative"}, "y2": {"datum": 3500}}},
{"data": {"values": [{"t": "X10"}]}, "mark": {"type": "text", "align": "left", "baseline": "middle", "dx": 1.5, "font": "Liberation Sans", "fontSize": 6, "color": "#222222"},
 "encoding": {"x": {"datum": 131.5, "type": "quantitative"}, "y": {"datum": 1900, "type": "quantitative"}, "text": {"field": "t"}}},
{"data": {"values": [{"t": "VOLUME:69063.31"}]}, "mark": {"type": "text", "align": "left", "baseline": "middle", "font": "Liberation Sans", "fontSize": 7, "fontWeight": "bold", "color": "#b02020"},
 "encoding": {"x": {"datum": 1.7, "type": "quantitative"}, "y": {"datum": 24700, "type": "quantitative"}, "text": {"field": "t"}}},
{"data": {"values": [{"t": "MA5:40418.60"}]}, "mark": {"type": "text", "align": "left", "baseline": "middle", "font": "Liberation Sans", "fontSize": 7, "fontWeight": "bold", "color": "#d42a2a"},
 "encoding": {"x": {"datum": 17.9, "type": "quantitative"}, "y": {"datum": 24700, "type": "quantitative"}, "text": {"field": "t"}}},
{"data": {"values": [{"t": "MA10:44888.60"}]}, "mark": {"type": "text", "align": "left", "baseline": "middle", "font": "Liberation Sans", "fontSize": 7, "fontWeight": "bold", "color": "#1c1c5c"},
 "encoding": {"x": {"datum": 30.6, "type": "quantitative"}, "y": {"datum": 24700, "type": "quantitative"}, "text": {"field": "t"}}}
]
},
{
"width": 610, "height": 66,
"layer": [
{"data": {"name": "k"}, "mark": {"type": "rule", "clip": true, "strokeWidth": 1},
 "encoding": {
  "x": {"field": "i", "type": "quantitative", "scale": {"domain": [-0.67, 136.05], "nice": false, "zero": false}, "axis": null},
  "y": {"field": "m", "type": "quantitative", "scale": {"domain": [-0.385, 0.46], "nice": false, "zero": false}, "axis": null},
  "y2": {"datum": 0},
  "color": {"condition": {"test": "datum.m >= 0", "value": "#d42a2a"}, "value": "#3f7a3f"}}},
{"data": {"name": "mgrid"}, "mark": {"type": "rule", "strokeDash": [1.5, 2], "color": "#888888", "strokeWidth": 0.8},
 "encoding": {"x": {"datum": -0.67, "type": "quantitative"}, "x2": {"datum": 131.35}, "y": {"field": "g", "type": "quantitative"}}},
{"data": {"name": "macd"}, "mark": {"type": "line", "clip": true, "strokeWidth": 1, "interpolate": "monotone"},
 "encoding": {
  "x": {"field": "i", "type": "quantitative"},
  "y": {"field": "v", "type": "quantitative"},
  "color": {"field": "s", "type": "nominal", "scale": {"domain": ["DIF","DEA"], "range": ["#d43c3c","#33338a"]}, "legend": null}}},
{"data": {"values": [{}]}, "mark": {"type": "rule", "color": "#c0393b", "strokeWidth": 1},
 "encoding": {"x": {"datum": 131.35, "type": "quantitative"}}},
{"data": {"name": "mgrid"}, "mark": {"type": "rule", "color": "#555555", "strokeWidth": 0.8},
 "encoding": {"x": {"datum": 131.35, "type": "quantitative"}, "x2": {"datum": 131.95}, "y": {"field": "g", "type": "quantitative"}}},
{"data": {"name": "mgrid"}, "mark": {"type": "text", "align": "left", "baseline": "middle", "dx": 3, "font": "Liberation Sans", "fontSize": 6, "color": "#222222"},
 "encoding": {"x": {"datum": 131.35, "type": "quantitative"}, "y": {"field": "g", "type": "quantitative"}, "text": {"field": "g", "type": "quantitative", "format": ".2f"}}},
{"data": {"values": [{"t": "MACD (12,26,9)"}]}, "mark": {"type": "text", "align": "left", "baseline": "middle", "font": "Liberation Sans", "fontSize": 7, "fontWeight": "bold", "color": "#111111"},
 "encoding": {"x": {"datum": 1.7, "type": "quantitative"}, "y": {"datum": 0.39, "type": "quantitative"}, "text": {"field": "t"}}},
{"data": {"values": [{"t": "DIF:-0.14"}]}, "mark": {"type": "text", "align": "left", "baseline": "middle", "font": "Liberation Sans", "fontSize": 7, "fontWeight": "bold", "color": "#d42a2a"},
 "encoding": {"x": {"datum": 15.6, "type": "quantitative"}, "y": {"datum": 0.39, "type": "quantitative"}, "text": {"field": "t"}}},
{"data": {"values": [{"t": "DEA:-0.06"}]}, "mark": {"type": "text", "align": "left", "baseline": "middle", "font": "Liberation Sans", "fontSize": 7, "fontWeight": "bold", "color": "#1c1c5c"},
 "encoding": {"x": {"datum": 23.7, "type": "quantitative"}, "y": {"datum": 0.39, "type": "quantitative"}, "text": {"field": "t"}}},
{"data": {"values": [{"t": "MACD:-0.17"}]}, "mark": {"type": "text", "align": "left", "baseline": "middle", "font": "Liberation Sans", "fontSize": 7, "fontWeight": "bold", "color": "#111111"},
 "encoding": {"x": {"datum": 32.0, "type": "quantitative"}, "y": {"datum": 0.39, "type": "quantitative"}, "text": {"field": "t"}}}
]
},
{
"width": 610, "height": 64,
"layer": [
{"data": {"name": "kdj"}, "mark": {"type": "line", "clip": true, "strokeWidth": 1},
 "encoding": {
  "x": {"field": "i", "type": "quantitative", "scale": {"domain": [-0.67, 136.05], "nice": false, "zero": false}, "axis": null},
  "y": {"field": "v", "type": "quantitative", "scale": {"domain": [-14, 140], "nice": false, "zero": false}, "axis": null},
  "color": {"field": "s", "type": "nominal", "scale": {"domain": ["K","D","J"], "range": ["#d43c3c","#33338a","#111111"]}, "legend": null}}},
{"data": {"name": "kgrid"}, "mark": {"type": "rule", "strokeDash": [1.5, 2], "color": "#888888", "strokeWidth": 0.8},
 "encoding": {"x": {"datum": -0.67, "type": "quantitative"}, "x2": {"datum": 131.35}, "y": {"field": "g", "type": "quantitative"}}},
{"data": {"values": [{}]}, "mark": {"type": "rule", "color": "#c0393b", "strokeWidth": 1},
 "encoding": {"x": {"datum": 131.35, "type": "quantitative"}}},
{"data": {"name": "kgrid"}, "mark": {"type": "rule", "color": "#555555", "strokeWidth": 0.8},
 "encoding": {"x": {"datum": 131.35, "type": "quantitative"}, "x2": {"datum": 131.95}, "y": {"field": "g", "type": "quantitative"}}},
{"data": {"name": "kgrid"}, "mark": {"type": "text", "align": "left", "baseline": "middle", "dx": 3, "font": "Liberation Sans", "fontSize": 6, "color": "#222222"},
 "encoding": {"x": {"datum": 131.35, "type": "quantitative"}, "y": {"field": "g", "type": "quantitative"}, "text": {"field": "g", "type": "quantitative", "format": ".2f"}}},
{"data": {"values": [{"t": "KDJ (9,3,3)"}]}, "mark": {"type": "text", "align": "left", "baseline": "middle", "font": "Liberation Sans", "fontSize": 7, "fontWeight": "bold", "color": "#111111"},
 "encoding": {"x": {"datum": 1.3, "type": "quantitative"}, "y": {"datum": 131, "type": "quantitative"}, "text": {"field": "t"}}},
{"data": {"values": [{"t": "K:26.97"}]}, "mark": {"type": "text", "align": "left", "baseline": "middle", "font": "Liberation Sans", "fontSize": 7, "fontWeight": "bold", "color": "#d42a2a"},
 "encoding": {"x": {"datum": 11.4, "type": "quantitative"}, "y": {"datum": 131, "type": "quantitative"}, "text": {"field": "t"}}},
{"data": {"values": [{"t": "D:43.37"}]}, "mark": {"type": "text", "align": "left", "baseline": "middle", "font": "Liberation Sans", "fontSize": 7, "fontWeight": "bold", "color": "#1c1c5c"},
 "encoding": {"x": {"datum": 18.0, "type": "quantitative"}, "y": {"datum": 131, "type": "quantitative"}, "text": {"field": "t"}}},
{"data": {"values": [{"t": "J:-5.81"}]}, "mark": {"type": "text", "align": "left", "baseline": "middle", "font": "Liberation Sans", "fontSize": 7, "fontWeight": "bold", "color": "#111111"},
 "encoding": {"x": {"datum": 24.3, "type": "quantitative"}, "y": {"datum": 131, "type": "quantitative"}, "text": {"field": "t"}}}
]
},
{
"width": 610, "height": 9,
"layer": [
{"data": {"name": "months"}, "mark": {"type": "rule", "color": "#c0393b", "strokeWidth": 1},
 "encoding": {"x": {"field": "i", "type": "quantitative", "scale": {"domain": [-0.67, 136.05], "nice": false, "zero": false}, "axis": null}}},
{"data": {"name": "months"}, "mark": {"type": "text", "align": "left", "baseline": "middle", "dx": 2, "font": "Noto Sans CJK SC", "fontSize": 6, "color": "#222222"},
 "encoding": {"x": {"field": "i", "type": "quantitative"}, "y": {"datum": 0.5, "type": "quantitative", "scale": {"domain": [0, 1]}, "axis": null}, "text": {"field": "t"}}},
{"data": {"values": [{"t": "日线"}]}, "mark": {"type": "text", "align": "left", "baseline": "middle", "dx": 3, "font": "Noto Sans CJK SC", "fontSize": 7, "fontWeight": "bold", "color": "#111111"},
 "encoding": {"x": {"datum": 131.35, "type": "quantitative"}, "y": {"datum": 0.5, "type": "quantitative"}, "text": {"field": "t"}}}
]
}
]
}
